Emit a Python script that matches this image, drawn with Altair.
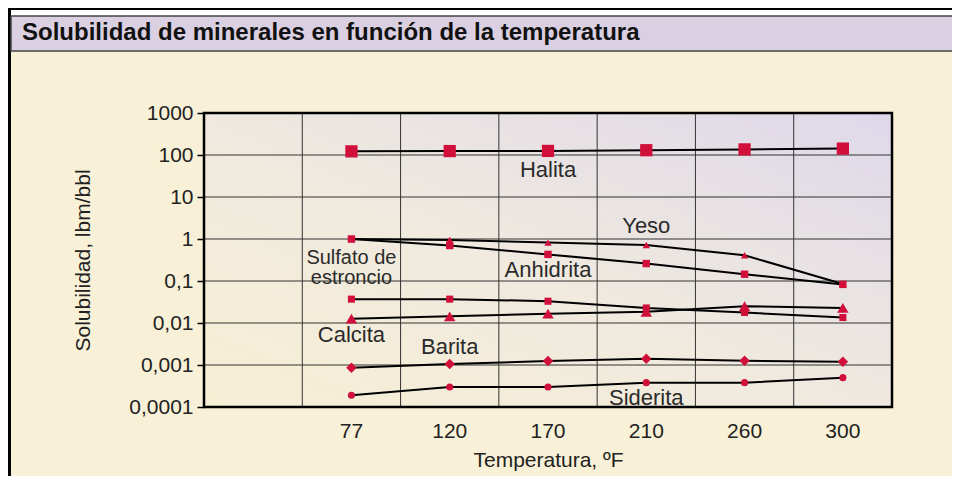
import altair as alt
import pandas as pd

# ---------------- data ----------------
temps = ["77", "120", "170", "210", "260", "300"]
minerals = ["Halita", "Yeso", "Anhidrita", "Sulfato de estroncio", "Calcita", "Barita", "Siderita"]

halita = [122, 124, 125, 130, 136, 142]
yeso = [1.0, 0.95, 0.82, 0.72, 0.41, 0.085]
anhidrita = [1.0, 0.70, 0.43, 0.26, 0.145, 0.083]
sulfato = [0.037, 0.037, 0.033, 0.0228, 0.0178, 0.0135]
calcita = [0.0127, 0.0144, 0.0167, 0.0185, 0.025, 0.0229]
barita = [0.00086, 0.00105, 0.00125, 0.0014, 0.00126, 0.0012]
siderita = [0.00019, 0.0003, 0.0003, 0.00038, 0.00038, 0.0005]

series = [halita, yeso, anhidrita, sulfato, calcita, barita, siderita]
shapes = ["square", "triangle-up", "square", "square", "triangle-up", "diamond", "circle"]
sizes = [150, 55, 55, 50, 130, 110, 50]

y_ticks = [0.0001, 0.001, 0.01, 0.1, 1, 10, 100, 1000]

label_text = ["Halita", "Yeso", "Anhidrita", "Calcita", "Barita", "Siderita"]
label_temp = ["170", "210", "170", "77", "120", "210"]
label_value = [44, 2.0, 0.183, 0.0052, 0.0027, 0.000164]

# two-line label for "Sulfato de estroncio"
sr_text = ["Sulfato de\nestroncio"]
sr_temp = ["77"]
sr_value = [0.36]

title_text = "Solubilidad de minerales en función de la temperatura"

# ---------------- tables ----------------
rows = []
for m, vals in zip(minerals, series):
    for t, v in zip(temps, vals):
        rows.append({"mineral": m, "temp": t, "value": v})
df = pd.DataFrame(rows)
lab_df = pd.DataFrame({"text": label_text, "temp": label_temp, "value": label_value})
sr_df = pd.DataFrame({"text": sr_text, "temp": sr_temp, "value": sr_value})
vgrid_df = pd.DataFrame({"temp": temps})
hgrid_df = pd.DataFrame({"value": y_ticks[1:-1]})
one = pd.DataFrame({"a": [0]})

W, H = 688, 294
FONT = "Liberation Sans"
RED = "#D0103A"

xscale = alt.Scale(type="band", domain=[""] + temps, paddingInner=0, paddingOuter=0)
yscale = alt.Scale(type="log", domain=[0.0001, 1000])

x_axis = alt.Axis(title="Temperatura, ºF", ticks=False, domain=False, grid=False,
                  labelPadding=13, labelAngle=0, titlePadding=8)
y_axis = alt.Axis(values=y_ticks, labelExpr="replace(format(datum.value, '~f'), '.', ',')",
                  grid=False, domain=False, tickSize=7, tickColor="black", tickWidth=1.5,
                  labelPadding=4, title="Solubilidad, lbm/bbl", titlePadding=35)


def X(band=0.5):
    return alt.X("temp:N", scale=xscale, bandPosition=band, axis=x_axis)


def Y():
    return alt.Y("value:Q", scale=yscale, axis=y_axis)


background = alt.Chart(one).mark_rect(
    fill=alt.Gradient(gradient="linear", x1=0, y1=1, x2=1, y2=0,
                      stops=[alt.GradientStop(color="#F7EFD4", offset=0),
                             alt.GradientStop(color="#F0EADF", offset=0.45),
                             alt.GradientStop(color="#DFD8EA", offset=1)])
).encode(x=alt.value(0), x2=alt.value(W), y=alt.value(0), y2=alt.value(H))

vgrid = alt.Chart(vgrid_df).mark_rule(color="#333333", strokeWidth=1).encode(x=X(0))
hgrid = alt.Chart(hgrid_df).mark_rule(color="#333333", strokeWidth=1).encode(y=Y())
border = alt.Chart(one).mark_rect(filled=False, stroke="black", strokeWidth=2.5).encode(
    x=alt.value(0), x2=alt.value(W), y=alt.value(0), y2=alt.value(H)
)

lines = alt.Chart(df).mark_line(color="black", strokeWidth=2).encode(
    x=X(), y=Y(), detail="mineral:N",
)

point_layers = []
for m, shp, sz in zip(minerals, shapes, sizes):
    point_layers.append(
        alt.Chart(df).transform_filter(alt.datum.mineral == m).mark_point(
            filled=True, opacity=1, color=RED, strokeWidth=0, shape=shp, size=sz
        ).encode(x=X(), y=Y())
    )

labels = alt.Chart(lab_df).mark_text(font=FONT, fontSize=22, color="#2a2a2a",
                                     align="center", baseline="middle").encode(
    x=X(), y=Y(), text="text:N",
)
sr_label = alt.Chart(sr_df).mark_text(font=FONT, fontSize=20, color="#2a2a2a",
                                      align="center", baseline="middle",
                                      lineBreak="\n", lineHeight=20).encode(
    x=X(), y=Y(), text="text:N",
)

# decorations: frame and title bar
frame_top = alt.Chart(one).mark_rect(fill="black").encode(
    x=alt.value(-196), x2=alt.value(760), y=alt.value(-105), y2=alt.value(-103))
frame_left = alt.Chart(one).mark_rect(fill="black").encode(
    x=alt.value(-196), x2=alt.value(-193), y=alt.value(-105), y2=alt.value(370))
white_strip = alt.Chart(one).mark_rect(fill="white").encode(
    x=alt.value(-193), x2=alt.value(760), y=alt.value(-103), y2=alt.value(-97))
title_bar = alt.Chart(one).mark_rect(fill="#DBD0E2", stroke="#444444", strokeWidth=1.5).encode(
    x=alt.value(-193), x2=alt.value(770), y=alt.value(-97), y2=alt.value(-62))
title = alt.Chart(one).mark_text(text=title_text, font=FONT, fontSize=24, fontWeight="bold",
                                 color="#111111", align="left", baseline="middle").encode(
    x=alt.value(-182), y=alt.value(-80))

chart = alt.layer(
    background, vgrid, hgrid, border, lines, *point_layers, labels, sr_label,
    white_strip, frame_top, frame_left, title_bar, title
).properties(
    width=W, height=H,
    autosize=alt.AutoSizeParams(type="none"),
    padding={"left": 196, "top": 105, "right": 60, "bottom": 69},
    background="#F8F1D7",
).configure_view(stroke=None).configure_axis(
    labelFont=FONT, titleFont=FONT, labelFontSize=21, titleFontSize=21,
    labelColor="#222222", titleColor="#222222", titleFontWeight="normal",
)

chart.save("out.html", embed_options={"renderer": "svg", "actions": False})
